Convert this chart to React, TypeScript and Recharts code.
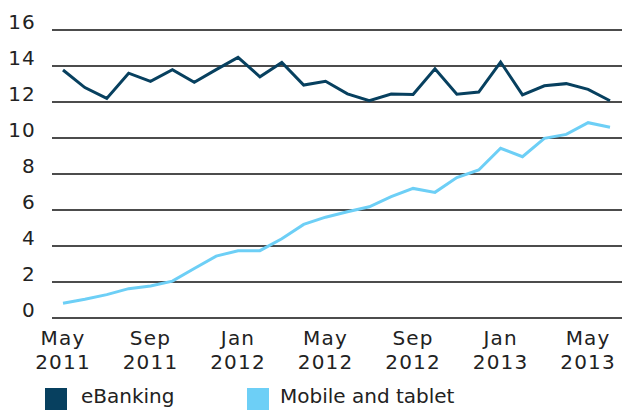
import { LineChart, Line, XAxis, YAxis, CartesianGrid, Legend } from 'recharts'

const months = [
  'May 2011', 'Jun 2011', 'Jul 2011', 'Aug 2011', 'Sep 2011', 'Oct 2011', 'Nov 2011', 'Dec 2011',
  'Jan 2012', 'Feb 2012', 'Mar 2012', 'Apr 2012', 'May 2012', 'Jun 2012', 'Jul 2012', 'Aug 2012',
  'Sep 2012', 'Oct 2012', 'Nov 2012', 'Dec 2012', 'Jan 2013', 'Feb 2013', 'Mar 2013', 'Apr 2013',
  'May 2013', 'Jun 2013',
]

const eBanking = [
  13.78, 12.8, 12.2, 13.6, 13.15, 13.8, 13.1, 13.8, 14.48, 13.4, 14.2, 12.94, 13.15,
  12.45, 12.07, 12.44, 12.42, 13.85, 12.43, 12.55, 14.22, 12.4, 12.9, 13.02, 12.7, 12.07,
]

const mobileTablet = [
  0.82, 1.04, 1.3, 1.63, 1.78, 2.05, 2.75, 3.44, 3.74, 3.74, 4.4, 5.2, 5.6,
  5.9, 6.18, 6.74, 7.2, 6.98, 7.8, 8.22, 9.43, 8.96, 9.98, 10.2, 10.85, 10.6,
]

const yTicks = [0, 2, 4, 6, 8, 10, 12, 14, 16]

const DARK = '#07405f'
const LIGHT = '#6dcff6'
const FONT = '"DejaVu Sans", sans-serif'

const data = months.map((m, i) => ({ month: m, eBanking: eBanking[i], mobile: mobileTablet[i] }))

function XTick({ x, y, payload }: any) {
  const [mon, yr] = String(payload.value).split(' ')
  return (
    <text x={x} y={y} textAnchor="middle" fill="#222" fontSize={20} fontFamily={FONT} letterSpacing={1.2}>
      <tspan x={x} dy={25}>{mon}</tspan>
      <tspan x={x} dy={24}>{yr}</tspan>
    </text>
  )
}

function YTick({ y, payload }: any) {
  return (
    <text x={36} y={y - 1} textAnchor="end" fill="#222" fontSize={20} fontFamily={FONT} letterSpacing={1.2}>
      {payload.value}
    </text>
  )
}

function LegendContent() {
  const items = [
    { label: 'eBanking', color: DARK, left: 45, textLeft: 81 },
    { label: 'Mobile and tablet', color: LIGHT, left: 247, textLeft: 280 },
  ]
  return (
    <div style={{ position: 'relative', height: 24, width: 622, fontFamily: FONT, fontSize: 20, color: '#222' }}>
      {items.map((it) => (
        <div key={it.label}>
          <span style={{ position: 'absolute', left: it.left, top: 2, width: 22, height: 22, background: it.color }} />
          <span style={{ position: 'absolute', left: it.textLeft, top: -2, whiteSpace: 'nowrap' }}>{it.label}</span>
        </div>
      ))}
    </div>
  )
}

export default function App() {
  return (
    <div style={{ position: 'absolute', left: 0, top: 0 }}>
      <LineChart width={622} height={411} data={data} margin={{ top: 30, right: 0, bottom: 43, left: 0 }}>
        <CartesianGrid vertical={false} stroke="#111" strokeWidth={1.3} />
        <XAxis
          dataKey="month"
          interval={3}
          tick={<XTick />}
          tickLine={false}
          axisLine={false}
          tickSize={0}
          height={50}
          padding={{ left: 11, right: 12 }}
        />
        <YAxis
          domain={[0, 16]}
          ticks={yTicks}
          tick={<YTick />}
          tickLine={false}
          axisLine={false}
          width={52}
        />
        <Legend verticalAlign="middle" align="center" wrapperStyle={{ top: 386, left: 0 }} content={<LegendContent />} />
        <Line dataKey="eBanking" name="eBanking" stroke={DARK} strokeWidth={3} dot={false} isAnimationActive={false} />
        <Line dataKey="mobile" name="Mobile and tablet" stroke={LIGHT} strokeWidth={3} dot={false} isAnimationActive={false} />
      </LineChart>
    </div>
  )
}
